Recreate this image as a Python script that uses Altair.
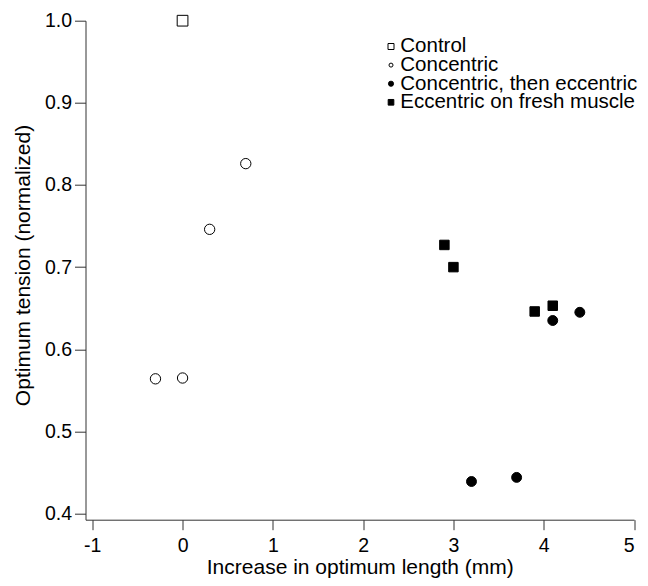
import altair as alt
import pandas as pd

# ---- data ----
groups_order = ["Control", "Concentric", "Concentric, then eccentric", "Eccentric on fresh muscle"]

control_x = [0.0]
control_y = [1.0]

concentric_x = [0.7, 0.3, -0.3, 0.0]
concentric_y = [0.826, 0.746, 0.564, 0.565]

conc_then_ecc_x = [4.1, 4.4, 3.2, 3.7]
conc_then_ecc_y = [0.635, 0.645, 0.439, 0.444]

ecc_fresh_x = [2.9, 3.0, 3.9, 4.1]
ecc_fresh_y = [0.727, 0.700, 0.646, 0.653]

x_ticks = [-1, 0, 1, 2, 3, 4, 5]
y_ticks = [0.4, 0.5, 0.6, 0.7, 0.8, 0.9, 1.0]

# styling per group (marker shape / fill / size on plot / size in legend)
shape_range = ["square", "circle", "circle", "square"]
fill_range = ["white", "white", "black", "black"]
size_range = [115, 90, 90, 115]
legend_sizes = [36, 16, 26, 32]

rows = []
for name, xs, ys in [
    (groups_order[0], control_x, control_y),
    (groups_order[1], concentric_x, concentric_y),
    (groups_order[2], conc_then_ecc_x, conc_then_ecc_y),
    (groups_order[3], ecc_fresh_x, ecc_fresh_y),
]:
    for xv, yv in zip(xs, ys):
        rows.append({"group": name, "x": xv, "y": yv})
df = pd.DataFrame(rows)
legend_df = pd.DataFrame({"group": groups_order})

FONT = "Liberation Sans"

shape_scale = alt.Scale(domain=groups_order, range=shape_range)
fill_scale = alt.Scale(domain=groups_order, range=fill_range)

points = (
    alt.Chart(df)
    .mark_point(stroke="black", strokeWidth=1, opacity=1, fillOpacity=1)
    .encode(
        x=alt.X(
            "x:Q",
            scale=alt.Scale(domain=[-1.075, 5], nice=False, zero=False),
            axis=alt.Axis(
                values=x_ticks,
                labelExpr="'' + datum.value",
                title="Increase in optimum length (mm)",
                tickSize=10,
                labelPadding=7,
                titleY=53.8,
                titleBaseline="alphabetic",
            ),
        ),
        y=alt.Y(
            "y:Q",
            scale=alt.Scale(domain=[0.3925, 1.0], nice=False, zero=False),
            axis=alt.Axis(
                values=y_ticks,
                format=".1f",
                title="Optimum tension (normalized)",
                tickSize=11,
                labelPadding=3,
                titleX=-56.5,
                titleY=244.3,
                titleAngle=270,
                titleAlign="center",
                titleBaseline="alphabetic",
            ),
        ),
        shape=alt.Shape("group:N", scale=shape_scale, legend=None),
        fill=alt.Fill("group:N", scale=fill_scale, legend=None),
        size=alt.Size(
            "group:N",
            scale=alt.Scale(domain=groups_order, range=size_range),
            legend=None,
        ),
    )
)

# ---- legend (top right, inside plot) ----
LEG_SYMBOL_X = 305.5
LEG_TEXT_X = 314.8
LEG_FIRST_BASELINE = 31.6
LEG_ROW_STEP = 18.6
LEG_SYMBOL_LIFT = 5.8

legend_layers = []
for i, name in enumerate(groups_order):
    base_y = LEG_FIRST_BASELINE + i * LEG_ROW_STEP
    sub = alt.Chart(legend_df).transform_filter(alt.datum.group == name)
    legend_layers.append(
        sub.mark_point(stroke="black", strokeWidth=1, opacity=1, fillOpacity=1).encode(
            x=alt.value(LEG_SYMBOL_X),
            y=alt.value(base_y - LEG_SYMBOL_LIFT),
            shape=alt.Shape("group:N", scale=shape_scale, legend=None),
            fill=alt.Fill("group:N", scale=fill_scale, legend=None),
            size=alt.value(legend_sizes[i]),
        )
    )
    legend_layers.append(
        sub.mark_text(
            align="left",
            baseline="alphabetic",
            font=FONT,
            fontSize=20.5,
            color="black",
        ).encode(
            x=alt.value(LEG_TEXT_X),
            y=alt.value(base_y),
            text="group:N",
        )
    )

chart = (
    alt.layer(points, *legend_layers)
    .properties(
        width=548.5,
        height=499,
        autosize=alt.AutoSizeParams(type="none"),
        padding={"left": 77.5, "top": 12.7, "right": 6, "bottom": 58.3},
    )
    .configure_view(stroke=None)
    .configure_axis(
        grid=False,
        domainColor="#333333",
        tickColor="#333333",
        domainWidth=1,
        tickWidth=1,
        labelFont=FONT,
        labelFontSize=19.5,
        labelColor="black",
        titleFont=FONT,
        titleFontSize=21,
        titleFontWeight="normal",
        titleColor="black",
    )
)

chart.save("out.html", embed_options={"renderer": "svg", "actions": False})
